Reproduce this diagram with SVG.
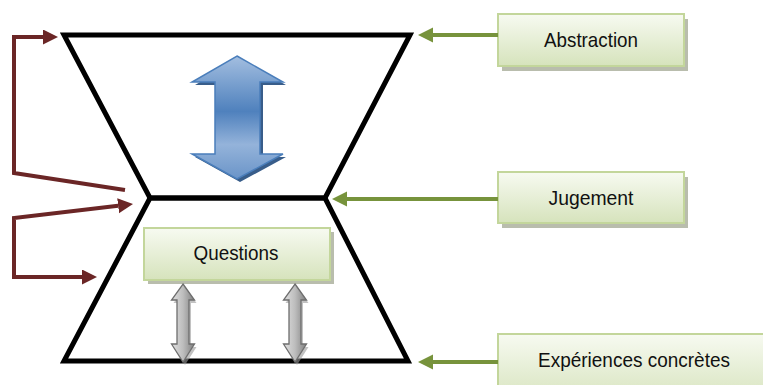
<svg xmlns="http://www.w3.org/2000/svg" width="763" height="385" viewBox="0 0 763 385">
<defs>
<linearGradient id="gBox" x1="0" y1="0" x2="0" y2="1">
<stop offset="0" stop-color="#f7faf1"/>
<stop offset="1" stop-color="#d6e3bc"/>
</linearGradient>
<linearGradient id="gBlue" x1="0" y1="0" x2="0" y2="1">
<stop offset="0" stop-color="#a3bee0"/>
<stop offset="0.45" stop-color="#4f81bd"/>
<stop offset="0.72" stop-color="#94b3da"/>
<stop offset="1" stop-color="#6a94c8"/>
</linearGradient>
<linearGradient id="gGray" x1="0" y1="0" x2="1" y2="0">
<stop offset="0" stop-color="#e0e0e0"/>
<stop offset="0.5" stop-color="#bdbdbd"/>
<stop offset="1" stop-color="#808080"/>
</linearGradient>
<marker id="hRed" markerUnits="userSpaceOnUse" markerWidth="16" markerHeight="16" refX="0" refY="7.5" orient="auto-start-reverse" viewBox="0 0 16 16">
<path d="M0,0 L15,7.5 L0,15 Z" fill="#6b2626"/>
</marker>
<marker id="hGreen" markerUnits="userSpaceOnUse" markerWidth="16" markerHeight="16" refX="0" refY="7.5" orient="auto" viewBox="0 0 16 16">
<path d="M0,0 L15,7.5 L0,15 Z" fill="#77933c"/>
</marker>
</defs>
<style>
.shape{fill:none;stroke:#000;stroke-width:5;stroke-linejoin:miter}
.box{fill:url(#gBox);stroke:#c3d69b;stroke-width:2}
.shadow{fill:#a8ad98;opacity:0.8}
.lbl{font-family:"Liberation Sans",Arial,sans-serif;font-size:21px;fill:#111;text-anchor:middle}
.red{fill:none;stroke:#6b2626;stroke-width:4;stroke-linejoin:miter}
.green{fill:none;stroke:#77933c;stroke-width:4}
.gray{fill:url(#gGray);stroke:#6e6e6e;stroke-width:1.3}
.grayshadow{fill:#9a9a9a;opacity:0.6}
</style>

<g id="top-trapezoid">
<polygon class="shape" points="64,35 410,35 325,198 150,198"/>
</g>
<g id="bottom-trapezoid">
<polygon class="shape" points="150,198 325,198 408,361 64,361"/>
</g>

<g id="blue-arrow">
<polygon points="240,59 286,85 263,85 263,157 286,157 240,182 195,157 218,157 218,85 195,85" fill="#385d8a"/>
<polygon points="237,56 283,82 260,82 260,154 283,154 237,179 192,154 215,154 215,82 192,82" fill="url(#gBlue)" stroke="#4a7ebb" stroke-width="1.5"/>
</g>

<g id="questions">
<rect class="shadow" x="148" y="232" width="186" height="52"/>
<rect class="box" x="144" y="228" width="186" height="52"/>
<text class="lbl" x="236" y="260" textLength="85" lengthAdjust="spacingAndGlyphs">Questions</text>
</g>

<g id="abstraction">
<rect class="shadow" x="502" y="19" width="186" height="52"/>
<rect class="box" x="498" y="14" width="186" height="52"/>
<text class="lbl" x="591" y="47" textLength="94" lengthAdjust="spacingAndGlyphs">Abstraction</text>
</g>

<g id="jugement">
<rect class="shadow" x="502" y="177" width="186" height="51"/>
<rect class="box" x="498" y="172" width="186" height="51"/>
<text class="lbl" x="591" y="205" textLength="85" lengthAdjust="spacingAndGlyphs">Jugement</text>
</g>

<g id="experiences">
<rect class="box" x="498" y="334" width="280" height="70"/>
<text class="lbl" x="634" y="367" textLength="192" lengthAdjust="spacingAndGlyphs">Expériences concrètes</text>
</g>

<g id="gray-arrows">
<polygon class="grayshadow" points="185,287 196.5,303 191,303 191,347 196.5,347 185,365 173.5,347 179,347 179,303 173.5,303"/>
<polygon class="gray" points="183,284 194.5,300 189,300 189,344 194.5,344 183,362 171.5,344 177,344 177,300 171.5,300"/>
<polygon class="grayshadow" points="297,287 308.5,303 303,303 303,347 308.5,347 297,365 285.5,347 291,347 291,303 285.5,303"/>
<polygon class="gray" points="295,284 306.5,300 301,300 301,344 306.5,344 295,362 283.5,344 289,344 289,300 283.5,300"/>
</g>

<g id="connectors">
<path class="red" d="M125,190 L14,173 L14,37 L43,37" marker-end="url(#hRed)"/>
<path class="red" d="M118.1,205.8 L14,218 L14,277 L82,277" marker-start="url(#hRed)" marker-end="url(#hRed)"/>
<path class="green" d="M498,35 L433,35" marker-end="url(#hGreen)"/>
<path class="green" d="M498,199 L347,199" marker-end="url(#hGreen)"/>
<path class="green" d="M498,362 L433,362" marker-end="url(#hGreen)"/>
</g>
</svg>
